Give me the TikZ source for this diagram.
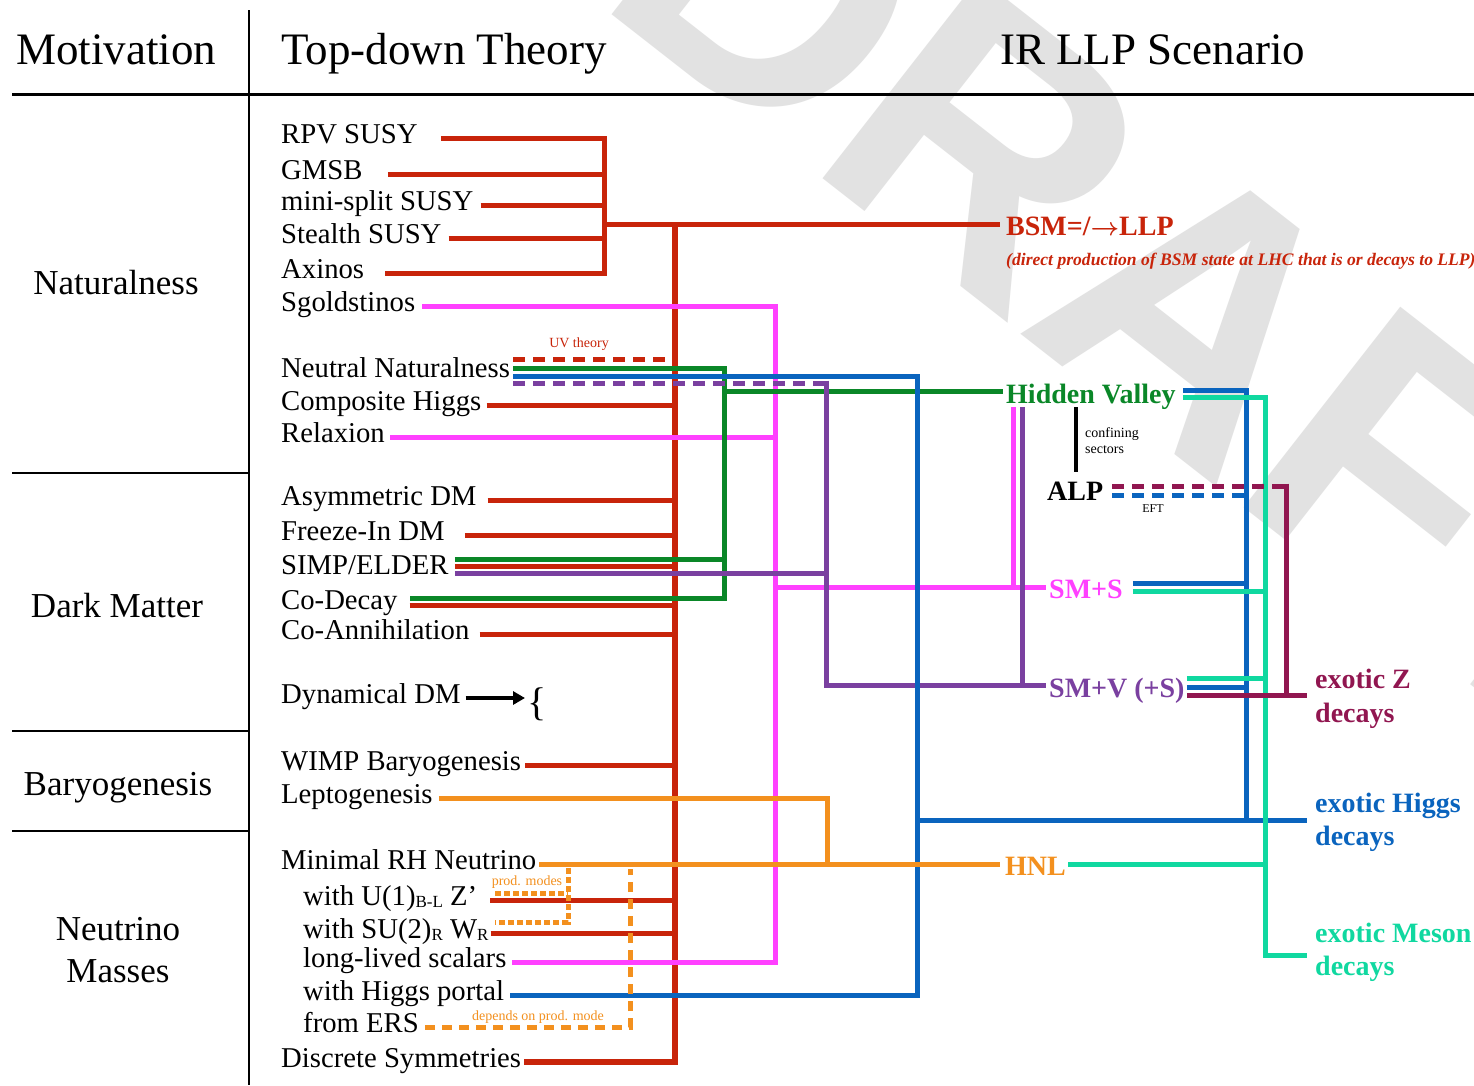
\documentclass[tikz,border=0pt]{standalone}
\usepackage{fontspec}
\setmainfont{Liberation Serif}
\newfontfamily\wmfont{Liberation Sans}
\usetikzlibrary{arrows.meta}
\definecolor{cR}{RGB}{200,36,10}
\definecolor{cM}{RGB}{255,64,255}
\definecolor{cG}{RGB}{10,135,40}
\definecolor{cB}{RGB}{10,100,190}
\definecolor{cP}{RGB}{122,64,160}
\definecolor{cT}{RGB}{16,216,160}
\definecolor{cW}{RGB}{145,22,80}
\definecolor{cO}{RGB}{243,144,30}
\definecolor{cWM}{RGB}{226,226,226}
\newcommand{\mysub}[1]{\raisebox{-2pt}{\fontsize{17}{17}\selectfont #1}}
\begin{document}
\begin{tikzpicture}[x=1pt,y=-1pt,
  lab/.style={anchor=west, inner sep=0pt, text height=18.9pt, text depth=8pt, font=\fontsize{28.7}{30}\selectfont},
  rlab/.style={anchor=west, inner sep=0pt, text height=18.5pt, text depth=7.8pt, font=\fontsize{28}{30}\selectfont\bfseries},
  hdr/.style={inner sep=0pt, text height=29.7pt, text depth=0pt, font=\fontsize{45}{50}\selectfont},
  mot/.style={inner sep=0pt, text height=23.1pt, text depth=0pt, font=\fontsize{35}{40}\selectfont},
  small/.style={inner sep=0pt, font=\fontsize{14}{16}\selectfont},
  lw/.style={line width=5pt},
  udash/.style={dash pattern=on 12pt off 8pt},
  pmdot/.style={dash pattern=on 6pt off 3pt},
  ersdash/.style={dash pattern=on 10pt off 7pt},
  rule/.style={line width=2pt, black}
]
\useasboundingbox (0,0) rectangle (1474,1085);
\fill[white] (0,0) rectangle (1474,1085);
% watermark
\begin{scope}
\clip (0,0) rectangle (1474,1085);
\node[rotate=-38, inner sep=0pt, text=cWM, font=\wmfont\bfseries\fontsize{370}{370}\selectfont] (draft) at (1165,285) {DRAFT};
\end{scope}

% table rules
\draw[line width=3pt] (12,94) -- (1474,94);
\draw[rule] (249,10) -- (249,1085);
\draw[rule] (12,473) -- (249,473);
\draw[rule] (12,731) -- (249,731);
\draw[rule] (12,831) -- (249,831);

% headers
\node[hdr] (hmot) at (116,50) {Motivation};
\node[hdr, anchor=west] (htop) at (281,50) {Top-down Theory};
\node[hdr, anchor=west] (hir) at (1000,50) {IR LLP Scenario};

% motivations
\node[mot] (mnat) at (116,283) {Naturalness};
\node[mot] (mdm) at (117,606) {Dark Matter};
\node[mot] (mbar) at (118,784) {Baryogenesis};
\node[mot] (mnu1) at (118,929) {Neutrino};
\node[mot] (mnu2) at (118,971) {Masses};

% theories
\node[lab] (rpv) at (281,138) {RPV SUSY};
\node[lab] (gmsb) at (281,174) {GMSB};
\node[lab] (mini) at (281,205) {mini-split SUSY};
\node[lab] (stealth) at (281,238) {Stealth SUSY};
\node[lab] (axi) at (281,273) {Axinos};
\node[lab] (sgo) at (281,306) {Sgoldstinos};
\node[lab] (nn) at (281,372) {Neutral Naturalness};
\node[lab] (comp) at (281,405) {Composite Higgs};
\node[lab] (relax) at (281,437) {Relaxion};
\node[lab] (asym) at (281,500) {Asymmetric DM};
\node[lab] (freeze) at (281,535) {Freeze-In DM};
\node[lab] (simp) at (281,569) {SIMP/ELDER};
\node[lab] (codec) at (281,604) {Co-Decay};
\node[lab] (coann) at (281,634) {Co-Annihilation};
\node[lab] (dyn) at (281,698) {Dynamical DM};
\node[lab] (wimp) at (281,765) {WIMP Baryogenesis};
\node[lab] (lep) at (281,798) {Leptogenesis};
\node[lab] (rh) at (281,864) {Minimal RH Neutrino};
\node[lab] (u1) at (303,900) {with U(1)\mysub{B-L} Z’};
\node[lab] (su2) at (303,933) {with SU(2)\mysub{R} W\mysub{R}};
\node[lab] (lls) at (303,962) {long-lived scalars};
\node[lab] (hp) at (303,995) {with Higgs portal};
\node[lab] (ers) at (303,1027) {from ERS};
\node[lab] (disc) at (281,1062) {Discrete Symmetries};
\node[inner sep=0pt, anchor=west, font=\fontsize{40}{40}\selectfont] (brace) at (527,704) {\{};

% IR scenarios
\node[rlab, text=cR] (bsm) at (1006,230) {BSM=/{\boldmath$\rightarrow$}LLP};
\node[anchor=west, inner sep=0pt, text=cR, text height=11.6pt, text depth=5pt, font=\fontsize{17.6}{18}\selectfont\bfseries\itshape] (sub) at (1006,262) {(direct production of BSM state at LHC that is or decays to LLP)};
\node[rlab, text=cG] (hv) at (1006,398) {Hidden Valley};
\node[rlab] (alp) at (1047,495) {ALP};
\node[rlab, text=cM] (sms) at (1049,593) {SM+S};
\node[rlab, text=cP] (smv) at (1049,692) {SM+V (+S)};
\node[rlab, text=cO] (hnl) at (1005,870) {HNL};
\node[rlab, text=cW] (exz1) at (1315,683) {exotic Z};
\node[rlab, text=cW] (exz2) at (1315,717) {decays};
\node[rlab, text=cB] (exh1) at (1315,807) {exotic Higgs};
\node[rlab, text=cB] (exh2) at (1315,840) {decays};
\node[rlab, text=cT] (exm1) at (1315,937) {exotic Meson};
\node[rlab, text=cT] (exm2) at (1315,970) {decays};

% small labels
\node[small, text=cR] (uv) at (579,344) {UV theory};
\node[small, align=left, anchor=west] (cs) at (1085,441) {confining\\sectors};
\node[inner sep=0pt, font=\fontsize{12}{12}\selectfont] (eft) at (1153,509) {EFT};
\node[small, text=cO] (pml) at (527,882) {prod. modes};
\node[small, text=cO] (dep) at (538,1017) {depends on prod. mode};

% junction coordinates
\coordinate (susyV) at (604,224);
\coordinate (redT) at (675,224);
\coordinate (grnT) at (724,0);
\coordinate (magT) at (775,0);
\coordinate (purT) at (826,0);
\coordinate (oraT) at (827,0);
\coordinate (bluT) at (917,0);
\coordinate (bluR) at (1246,0);
\coordinate (teaR) at (1265,0);
\coordinate (marR) at (1286,0);
\coordinate (magR) at (1013,407);
\coordinate (purR) at (1022,407);
\coordinate (confA) at (1076,407);
\coordinate (confB) at (1076,472);
\coordinate (exHc) at (1307,820);
\coordinate (exMc) at (1307,955);
\coordinate (exZc) at (1307,695);
\coordinate (pmA) at (495,893);
\coordinate (pmB) at (568,893);
\coordinate (pmC) at (568,868);
\coordinate (pmD) at (568,922);
\coordinate (pmE) at (495,922);
\coordinate (ersC) at (630,0);
\coordinate (ersT) at (630,869);

% ---- red
\draw[lw,cR] ([xshift=23pt]rpv.east) -- (rpv.east -| susyV) -- (axi.east -| susyV) -- ([xshift=21pt]axi.east);
\draw[lw,cR] ([xshift=25pt]gmsb.east) -- (gmsb.east -| susyV);
\draw[lw,cR] ([xshift=7pt]mini.east) -- (mini.east -| susyV);
\draw[lw,cR] ([xshift=7pt]stealth.east) -- (stealth.east -| susyV);
\draw[lw,cR] (susyV) -- ([xshift=-6pt]bsm.west |- susyV);
\draw[line width=6pt,cR] (redT) -- (disc.east -| redT) -- ([xshift=3pt]disc.east);
\draw[lw,cR,udash] ([xshift=3pt,yshift=13pt]nn.east) -- ([yshift=13pt]nn.east -| redT);
\draw[lw,cR] ([xshift=5pt]comp.east) -- (comp.east -| redT);
\draw[lw,cR] ([xshift=11pt]asym.east) -- (asym.east -| redT);
\draw[lw,cR] ([xshift=20pt]freeze.east) -- (freeze.east -| redT);
\draw[lw,cR] ([xshift=6pt,yshift=3pt]simp.east) -- ([yshift=3pt]simp.east -| redT);
\draw[lw,cR] ([xshift=12pt,yshift=-1pt]codec.east) -- ([yshift=-1pt]codec.east -| redT);
\draw[lw,cR] ([xshift=10pt]coann.east) -- (coann.east -| redT);
\draw[lw,cR] ([xshift=4pt]wimp.east) -- (wimp.east -| redT);
\draw[lw,cR] ([xshift=13pt]u1.east) -- (u1.east -| redT);
\draw[lw,cR] ([xshift=2pt]su2.east) -- (su2.east -| redT);

% ---- magenta
\draw[lw,cM] ([xshift=7pt]sgo.east) -- (sgo.east -| magT) -- (lls.east -| magT) -- ([xshift=5pt]lls.east);
\draw[lw,cM] ([xshift=5pt]relax.east) -- (relax.east -| magT);
\draw[lw,cM] ([yshift=6pt]sms.west -| magT) -- ([xshift=-3pt,yshift=6pt]sms.west);
\draw[lw,cM] (magR) -- ([yshift=6pt]sms.west -| magR);

% ---- green
\draw[lw,cG] ([xshift=3pt,yshift=4pt]nn.east) -- ([yshift=4pt]nn.east -| grnT) -- ([yshift=6pt]codec.east -| grnT) -- ([xshift=12pt,yshift=6pt]codec.east);
\draw[lw,cG] ([xshift=6pt,yshift=10pt]simp.east) -- ([yshift=10pt]simp.east -| grnT);
\draw[lw,cG] ([yshift=7pt]hv.west -| grnT) -- ([xshift=-3pt,yshift=7pt]hv.west);

% ---- purple
\draw[lw,cP,udash] ([xshift=3pt,yshift=-11pt]nn.east) -- ([yshift=-11pt]nn.east -| purT);
\draw[lw,cP] ([yshift=-8.5pt]nn.east -| purT) -- ([yshift=7pt]smv.west -| purT) -- ([xshift=-3pt,yshift=7pt]smv.west);
\draw[lw,cP] ([xshift=6pt,yshift=-4pt]simp.east) -- ([yshift=-4pt]simp.east -| purT);
\draw[lw,cP] (purR) -- ([yshift=7pt]smv.west -| purR);

% ---- blue
\draw[lw,cB] ([xshift=3pt,yshift=-4pt]nn.east) -- ([yshift=-4pt]nn.east -| bluT) -- (hp.east -| bluT) -- ([xshift=6pt]hp.east);
\draw[lw,cB] (exHc -| bluT) -- (exHc);
\draw[lw,cB] ([xshift=7pt,yshift=8pt]hv.east) -- ([yshift=8pt]hv.east -| bluR) -- (exHc -| bluR);
\draw[lw,cB] ([xshift=10pt,yshift=10pt]sms.east) -- ([yshift=10pt]sms.east -| bluR);
\draw[lw,cB] ([xshift=2pt,yshift=5pt]smv.east) -- ([yshift=5pt]smv.east -| bluR);
\draw[lw,cB,udash] ([xshift=9pt]alp.east) -- (alp.east -| bluR);

% ---- teal
\draw[lw,cT] ([xshift=7pt,yshift=1pt]hv.east) -- ([yshift=1pt]hv.east -| teaR) -- (exMc -| teaR) -- (exMc);
\draw[lw,cT] ([xshift=10pt,yshift=2pt]sms.east) -- ([yshift=2pt]sms.east -| teaR);
\draw[lw,cT] ([xshift=2pt,yshift=14pt]smv.east) -- ([yshift=14pt]smv.east -| teaR);
\draw[lw,cT] ([xshift=2pt,yshift=6pt]hnl.east) -- ([yshift=6pt]hnl.east -| teaR);

% ---- maroon
\draw[lw,cW,udash] ([xshift=9pt,yshift=9pt]alp.east) -- ([yshift=9pt]alp.east -| marR);
\draw[lw,cW] ([yshift=11.5pt]alp.east -| marR) -- ([yshift=-3pt]smv.east -| marR);
\draw[lw,cW] ([xshift=2pt,yshift=-3pt]smv.east) -- ([yshift=-3pt]smv.east -| exZc);

% ---- orange
\draw[lw,cO] ([xshift=6pt]lep.east) -- (lep.east -| oraT) -- (rh.east -| oraT);
\draw[lw,cO] ([xshift=3pt]rh.east) -- ([xshift=-5pt]rh.east -| hnl.west);
\draw[lw,cO,pmdot] (pmA) -- (pmB);
\draw[lw,cO,pmdot] (pmC) -- (pmD) -- (pmE);
\draw[lw,cO,ersdash] ([xshift=6pt]ers.east) -- (ers.east -| ersC) -- (ersT);

% ---- black
\draw[line width=4.5pt] (confA) -- (confB);
\draw[line width=4pt,-{Triangle[length=12pt,width=13pt]}] ([xshift=5pt]dyn.east) -- ([xshift=-2pt]brace.west |- dyn.east);
\end{tikzpicture}
\end{document}
